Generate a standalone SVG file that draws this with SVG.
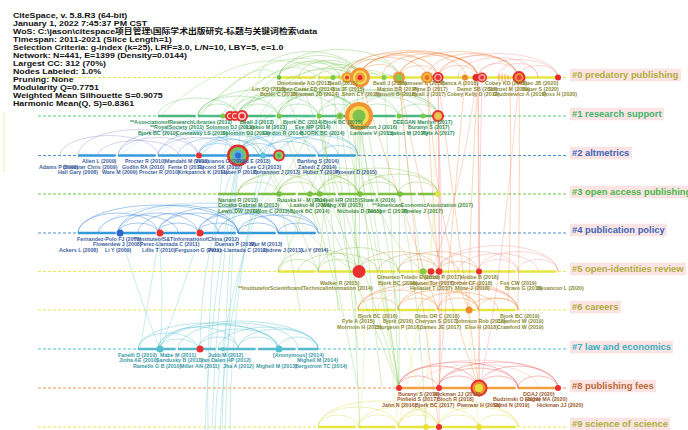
<svg xmlns="http://www.w3.org/2000/svg" width="688" height="430" viewBox="0 0 688 430">
<style>
.hd{font-family:"Liberation Sans","Noto Sans CJK SC",sans-serif;font-weight:bold;font-size:7.6px;fill:#111}
.nl{font-family:"Liberation Sans",Arial,sans-serif;font-weight:bold;font-size:5.3px}
.cl{font-family:"Liberation Sans",Arial,sans-serif;font-weight:bold;font-size:9.4px}
.bg{fill:#fde4e4}
.dash{fill:none;stroke-width:1;stroke-dasharray:3 2}
.solid{fill:none;stroke-width:2.4;stroke-dasharray:37.5 2.5}
#connectors path{fill:none;stroke-width:.7}
.g0{stroke:#7cc55a;stroke-opacity:.55}
.o0{stroke:#f07a30;stroke-opacity:.5}
.r0{stroke:#f06a6a;stroke-opacity:.4}
.a1{stroke:#5cbf5c;stroke-opacity:.5}
.a2p{stroke:#9a88d0;stroke-opacity:.55}
.a2{stroke:#3b9ee0;stroke-opacity:.55}
.a3{stroke:#80c040;stroke-opacity:.55}
.a4{stroke:#2d7fd6;stroke-opacity:.6}
.a4l{stroke:#8cc8ec;stroke-opacity:.5}
.a5g{stroke:#8cc04a;stroke-opacity:.55}
.a5o{stroke:#d08040;stroke-opacity:.5}
.a5r{stroke:#f08c8c;stroke-opacity:.5}
.a6{stroke:#f08a30;stroke-opacity:.55}
.a6r{stroke:#f4a0a0;stroke-opacity:.45}
.a7{stroke:#4cbccc;stroke-opacity:.55}
.a8{stroke:#e84848;stroke-opacity:.55}
.a8r{stroke:#f4a0a0;stroke-opacity:.5}
.a9{stroke:#e0e060;stroke-opacity:.65}
.xg{stroke:#78c850;stroke-opacity:.45}
.xt{stroke:#6cc8cc;stroke-opacity:.5}
.xc{stroke:#8ad4e4;stroke-opacity:.45}
.xo{stroke:#f08a40;stroke-opacity:.5}
.xr{stroke:#f07070;stroke-opacity:.4}
.xy{stroke:#e8e880;stroke-opacity:.55}
.L0{fill:#8b8b35}.L1{fill:#2f8f5a}.L2{fill:#3f63a0}.L3{fill:#3f8f3f}.L4{fill:#3f5f9f}
.L5{fill:#8b8b35}.L6{fill:#8b8b35}.L7{fill:#3a9aa6}.L8{fill:#9a5a30}
</style>
<rect width="688" height="430" fill="#ffffff"/>
<line x1="4" y1="112" x2="4" y2="172" stroke="#eeeeb0" stroke-width="1"/>

<g id="timelines">
<line class="dash" x1="38" y1="77.5" x2="568" y2="77.5" stroke="#e8e850"/>
<line class="dash" x1="38" y1="116" x2="568" y2="116" stroke="#55cc77"/>
<line class="dash" x1="38" y1="155.5" x2="568" y2="155.5" stroke="#4d8fd0"/>
<line class="dash" x1="38" y1="194" x2="568" y2="194" stroke="#66cc44"/>
<line class="dash" x1="38" y1="233" x2="568" y2="233" stroke="#4d8fd0"/>
<line class="dash" x1="38" y1="271.5" x2="568" y2="271.5" stroke="#e8e850"/>
<line class="dash" x1="38" y1="310" x2="568" y2="310" stroke="#e8e850"/>
<line class="dash" x1="38" y1="349" x2="568" y2="349" stroke="#55c0cc"/>
<line class="dash" x1="38" y1="388" x2="568" y2="388" stroke="#f09a50"/>
<line class="dash" x1="38" y1="427" x2="568" y2="427" stroke="#e8e850"/>
<line class="solid" x1="278" y1="77.5" x2="558" y2="77.5" stroke="#e6e640"/>
<line class="solid" x1="158" y1="116" x2="438" y2="116" stroke="#45b87a"/>
<line class="solid" x1="78" y1="155.5" x2="358" y2="155.5" stroke="#3399dd"/>
<line class="solid" x1="218" y1="194" x2="438" y2="194" stroke="#7cc040"/>
<line class="solid" x1="78" y1="233" x2="318" y2="233" stroke="#3399dd"/>
<line class="solid" x1="278" y1="271.5" x2="558" y2="271.5" stroke="#e6e640"/>
<line class="solid" x1="358" y1="310" x2="518" y2="310" stroke="#e6e640"/>
<line class="solid" x1="138" y1="349" x2="318" y2="349" stroke="#55bbcc"/>
<line class="solid" x1="398" y1="388" x2="558" y2="388" stroke="#f0a040"/>
<line class="solid" x1="318" y1="427" x2="518" y2="427" stroke="#e6e640"/>
</g>

<g id="connectors">
<path class="g0" d="M279 77.5A40 22 0 0 1 359 77.5"/>
<path class="g0" d="M279 77.5A60 28 0 0 1 399 77.5"/>
<path class="g0" d="M319 77.5A20 13 0 0 1 359 77.5"/>
<path class="g0" d="M279 77.5A30 16 0 0 1 339 77.5"/>
<path class="g0" d="M339 77.5A30 18 0 0 1 399 77.5"/>
<path class="g0" d="M299 77.5A30 17 0 0 1 359 77.5"/>
<path class="g0" d="M259 77.5A50 26 0 0 1 359 77.5"/>
<path class="o0" d="M359 77.5A39.5 22 0 0 1 438 77.5"/>
<path class="o0" d="M359 77.5A59.5 26 0 0 1 478 77.5"/>
<path class="o0" d="M399 77.5A39.5 22 0 0 1 478 77.5"/>
<path class="o0" d="M399 77.5A59.5 26 0 0 1 518 77.5"/>
<path class="o0" d="M438 77.5A40 22 0 0 1 518 77.5"/>
<path class="o0" d="M359 77.5A20 13 0 0 1 399 77.5"/>
<path class="o0" d="M399 77.5A19.5 12 0 0 1 438 77.5"/>
<path class="o0" d="M438 77.5A20 12 0 0 1 478 77.5"/>
<path class="o0" d="M345 77.5A46.5 24 0 0 1 438 77.5"/>
<path class="o0" d="M427 77.5A45.5 24 0 0 1 518 77.5"/>
<path class="o0" d="M345 77.5A66.5 27 0 0 1 478 77.5"/>
<path class="o0" d="M382 77.5A48 24 0 0 1 478 77.5"/>
<path class="o0" d="M347 77.5A40 20 0 0 1 427 77.5"/>
<path class="o0" d="M360 77.5A53 25 0 0 1 466 77.5"/>
<path class="r0" d="M478 77.5A40 18 0 0 1 558 77.5"/>
<path class="r0" d="M518 77.5A20 12 0 0 1 558 77.5"/>
<path class="r0" d="M498 77.5A20 14 0 0 1 538 77.5"/>
<path class="r0" d="M458 77.5A40 20 0 0 1 538 77.5"/>
<path class="r0" d="M478 77.5A20 14 0 0 1 518 77.5"/>
<path class="r0" d="M438 77.5A60 24 0 0 1 558 77.5"/>
<path class="xg" d="M240 116Q300 30 359 77.5"/>
<path class="xg" d="M200 116Q280 25 359 77.5"/>
<path class="xg" d="M238 155.5Q290 40 359 77.5"/>
<path class="xg" d="M160 116Q250 30 340 77.5"/>
<path class="xg" d="M230 116Q280 45 319 77.5"/>
<path class="xg" d="M279 116Q320 50 359 77.5"/>
<path class="xg" d="M241 116Q300 45 399 77.5"/>
<path class="xg" d="M238 155.5Q300 55 399 77.5"/>
<path class="xg" d="M198 116Q260 50 279 77.5"/>
<path class="xg" d="M220 116Q290 35 384 77.5"/>
<path class="a1" d="M158 116A40 18 0 0 1 238 116"/>
<path class="a1" d="M198 116A20 12 0 0 1 238 116"/>
<path class="a1" d="M198 116A40 20 0 0 1 278 116"/>
<path class="a1" d="M238 116A20 12 0 0 1 278 116"/>
<path class="a1" d="M238 116A40 20 0 0 1 318 116"/>
<path class="a1" d="M238 116A60 26 0 0 1 358 116"/>
<path class="a1" d="M278 116A40 22 0 0 1 358 116"/>
<path class="a1" d="M278 116A20 12 0 0 1 318 116"/>
<path class="a1" d="M318 116A20 12 0 0 1 358 116"/>
<path class="a1" d="M358 116A20 12 0 0 1 398 116"/>
<path class="a1" d="M358 116A40 22 0 0 1 438 116"/>
<path class="a1" d="M398 116A20 12 0 0 1 438 116"/>
<path class="a1" d="M318 116A60 26 0 0 1 438 116"/>
<path class="a1" d="M278 116A60 26 0 0 1 398 116"/>
<path class="a1" d="M238 116A100 28 0 0 1 438 116"/>
<path class="a1" d="M198 116A80 28 0 0 1 358 116"/>
<path class="a1" d="M230 116A55 24 0 0 1 340 116"/>
<path class="a1" d="M340 116A41.5 20 0 0 1 423 116"/>
<path class="a2p" d="M60 155.5A49 20 0 0 1 158 155.5"/>
<path class="a2p" d="M78 155.5A60 26 0 0 1 198 155.5"/>
<path class="a2p" d="M118 155.5A40 18 0 0 1 198 155.5"/>
<path class="a2p" d="M98 155.5A40 15 0 0 1 178 155.5"/>
<path class="a2p" d="M158 155.5A40 18 0 0 1 238 155.5"/>
<path class="a2" d="M118 155.5A60 26 0 0 1 238 155.5"/>
<path class="a2" d="M198 155.5A20 12 0 0 1 238 155.5"/>
<path class="a2" d="M198 155.5A40 20 0 0 1 278 155.5"/>
<path class="a2" d="M238 155.5A20 12 0 0 1 278 155.5"/>
<path class="a2" d="M238 155.5A40 20 0 0 1 318 155.5"/>
<path class="a2" d="M238 155.5A60 26 0 0 1 358 155.5"/>
<path class="a2" d="M278 155.5A40 20 0 0 1 358 155.5"/>
<path class="a2" d="M158 155.5A60 26 0 0 1 278 155.5"/>
<path class="a2" d="M178 155.5A40 18 0 0 1 258 155.5"/>
<path class="a2" d="M258 155.5A30 14 0 0 1 318 155.5"/>
<path class="a2" d="M318 155.5A20 10 0 0 1 358 155.5"/>
<path class="a2" d="M199 155.5A32 16 0 0 1 263 155.5"/>
<path class="a2" d="M263 155.5A37.5 18 0 0 1 338 155.5"/>
<path class="xc" d="M199 155.5Q240 120 279 116"/>
<path class="xc" d="M238 155.5Q260 110 300 77.5"/>
<path class="xc" d="M263 155.5Q290 110 320 77.5"/>
<path class="xc" d="M160 155.5Q200 120 241 116"/>
<path class="xc" d="M118 155.5Q180 110 230 116"/>
<path class="xc" d="M238 155.5Q270 120 319 116"/>
<path class="xc" d="M199 155.5Q250 110 340 116"/>
<path class="xc" d="M279 155.5Q300 120 359 116"/>
<path class="a3" d="M238 194A20 12 0 0 1 278 194"/>
<path class="a3" d="M238 194A40 20 0 0 1 318 194"/>
<path class="a3" d="M278 194A20 12 0 0 1 318 194"/>
<path class="a3" d="M278 194A40 20 0 0 1 358 194"/>
<path class="a3" d="M318 194A20 12 0 0 1 358 194"/>
<path class="a3" d="M318 194A40 20 0 0 1 398 194"/>
<path class="a3" d="M358 194A20 12 0 0 1 398 194"/>
<path class="a3" d="M358 194A40 20 0 0 1 438 194"/>
<path class="a3" d="M398 194A20 12 0 0 1 438 194"/>
<path class="a3" d="M278 194A60 26 0 0 1 398 194"/>
<path class="a3" d="M238 194A60 24 0 0 1 358 194"/>
<path class="a3" d="M318 194A60 26 0 0 1 438 194"/>
<path class="a4" d="M78 233A40 20 0 0 1 158 233"/>
<path class="a4" d="M98 233A40 18 0 0 1 178 233"/>
<path class="a4" d="M118 233A40 20 0 0 1 198 233"/>
<path class="a4" d="M118 233A60 28 0 0 1 238 233"/>
<path class="a4" d="M158 233A40 20 0 0 1 238 233"/>
<path class="a4" d="M158 233A60 26 0 0 1 278 233"/>
<path class="a4" d="M198 233A40 20 0 0 1 278 233"/>
<path class="a4" d="M198 233A60 26 0 0 1 318 233"/>
<path class="a4" d="M238 233A40 18 0 0 1 318 233"/>
<path class="a4" d="M78 233A80 28 0 0 1 238 233"/>
<path class="a4" d="M138 233A40 20 0 0 1 218 233"/>
<path class="a4" d="M218 233A40 20 0 0 1 298 233"/>
<path class="a4" d="M278 233A20 10 0 0 1 318 233"/>
<path class="a4" d="M118 233A20 10 0 0 1 158 233"/>
<path class="a4" d="M158 233A20 10 0 0 1 198 233"/>
<path class="a4" d="M198 233A20 10 0 0 1 238 233"/>
<path class="a4" d="M238 233A20 10 0 0 1 278 233"/>
<path class="a4l" d="M100 233A100 30 0 0 1 300 233"/>
<path class="a4l" d="M120 233A99 30 0 0 1 318 233"/>
<path class="a5g" d="M278 271.5A40 22 0 0 1 358 271.5"/>
<path class="a5g" d="M318 271.5A20 12 0 0 1 358 271.5"/>
<path class="a5g" d="M278 271.5A20 12 0 0 1 318 271.5"/>
<path class="a5g" d="M318 271.5A40 24 0 0 1 398 271.5"/>
<path class="a5g" d="M358 271.5A20 12 0 0 1 398 271.5"/>
<path class="a5g" d="M298 271.5A40 18 0 0 1 378 271.5"/>
<path class="a5o" d="M358 271.5A40 20 0 0 1 438 271.5"/>
<path class="a5o" d="M398 271.5A20 12 0 0 1 438 271.5"/>
<path class="a5o" d="M398 271.5A40 20 0 0 1 478 271.5"/>
<path class="a5o" d="M438 271.5A20 10 0 0 1 478 271.5"/>
<path class="a5o" d="M378 271.5A40 18 0 0 1 458 271.5"/>
<path class="a5r" d="M438 271.5A40 20 0 0 1 518 271.5"/>
<path class="a5r" d="M478 271.5A20 12 0 0 1 518 271.5"/>
<path class="a5r" d="M478 271.5A40 20 0 0 1 558 271.5"/>
<path class="a5r" d="M518 271.5A20 12 0 0 1 558 271.5"/>
<path class="a5r" d="M438 271.5A60 26 0 0 1 558 271.5"/>
<path class="a5r" d="M458 271.5A40 18 0 0 1 538 271.5"/>
<path class="a6" d="M358 310A20 12 0 0 1 398 310"/>
<path class="a6" d="M358 310A40 20 0 0 1 438 310"/>
<path class="a6" d="M398 310A20 12 0 0 1 438 310"/>
<path class="a6" d="M398 310A40 20 0 0 1 478 310"/>
<path class="a6" d="M438 310A20 12 0 0 1 478 310"/>
<path class="a6" d="M438 310A40 22 0 0 1 518 310"/>
<path class="a6" d="M478 310A20 12 0 0 1 518 310"/>
<path class="a6" d="M358 310A60 26 0 0 1 478 310"/>
<path class="a6" d="M398 310A60 28 0 0 1 518 310"/>
<path class="a6" d="M418 310A40 18 0 0 1 498 310"/>
<path class="a6" d="M469 310A24.5 12 0 0 1 518 310"/>
<path class="a6r" d="M378 310A70 28 0 0 1 518 310"/>
<path class="a6r" d="M358 310A80 28 0 0 1 518 310"/>
<path class="a7" d="M138 349A30 16 0 0 1 198 349"/>
<path class="a7" d="M158 349A40 22 0 0 1 238 349"/>
<path class="a7" d="M198 349A20 12 0 0 1 238 349"/>
<path class="a7" d="M198 349A40 20 0 0 1 278 349"/>
<path class="a7" d="M238 349A20 12 0 0 1 278 349"/>
<path class="a7" d="M238 349A40 20 0 0 1 318 349"/>
<path class="a7" d="M278 349A20 12 0 0 1 318 349"/>
<path class="a7" d="M158 349A80 28 0 0 1 318 349"/>
<path class="a7" d="M138 349A70 26 0 0 1 278 349"/>
<path class="a7" d="M178 349A60 26 0 0 1 298 349"/>
<path class="a7" d="M218 349A50 22 0 0 1 318 349"/>
<path class="a7" d="M158 349A20 10 0 0 1 198 349"/>
<path class="a7" d="M160 349A59.5 24 0 0 1 279 349"/>
<path class="a8" d="M398 388A20 12 0 0 1 438 388"/>
<path class="a8" d="M398 388A40 22 0 0 1 478 388"/>
<path class="a8" d="M438 388A20 12 0 0 1 478 388"/>
<path class="a8" d="M438 388A40 20 0 0 1 518 388"/>
<path class="a8" d="M478 388A20 12 0 0 1 518 388"/>
<path class="a8" d="M478 388A40 22 0 0 1 558 388"/>
<path class="a8" d="M518 388A20 12 0 0 1 558 388"/>
<path class="a8" d="M398 388A60 26 0 0 1 518 388"/>
<path class="a8" d="M438 388A60 26 0 0 1 558 388"/>
<path class="a8r" d="M398 388A80 28 0 0 1 558 388"/>
<path class="a8r" d="M418 388A60 24 0 0 1 538 388"/>
<path class="a9" d="M318 427A20 12 0 0 1 358 427"/>
<path class="a9" d="M318 427A40 20 0 0 1 398 427"/>
<path class="a9" d="M358 427A20 12 0 0 1 398 427"/>
<path class="a9" d="M358 427A40 20 0 0 1 438 427"/>
<path class="a9" d="M398 427A20 12 0 0 1 438 427"/>
<path class="a9" d="M398 427A40 20 0 0 1 478 427"/>
<path class="a9" d="M438 427A20 12 0 0 1 478 427"/>
<path class="a9" d="M438 427A40 20 0 0 1 518 427"/>
<path class="a9" d="M478 427A20 12 0 0 1 518 427"/>
<path class="a9" d="M318 427A60 26 0 0 1 438 427"/>
<path class="a9" d="M398 427A60 26 0 0 1 518 427"/>
<path class="xg" d="M359 116Q360 200 359 271.5"/>
<path class="xg" d="M340 77.5Q380 250 399 388"/>
<path class="xg" d="M359 77.5Q350 180 359 271.5"/>
<path class="xg" d="M319 116Q340 220 358 310"/>
<path class="xg" d="M279 116Q350 260 399 388"/>
<path class="xg" d="M399 116Q400 250 399 388"/>
<path class="xg" d="M340 116Q350 200 360 271.5"/>
<path class="xg" d="M300 77.5Q360 250 399 388"/>
<path class="xg" d="M279 77.5Q330 200 359 271.5"/>
<path class="xg" d="M319 77.5Q330 180 338 310"/>
<path class="xg" d="M384 77.5Q390 200 399 388"/>
<path class="xg" d="M359 116Q380 250 399 388"/>
<path class="xg" d="M359 116Q370 230 423 271.5"/>
<path class="xg" d="M340 77.5Q350 150 358 194"/>
<path class="xg" d="M279 116Q300 180 319 233"/>
<path class="xg" d="M359 77.5Q380 200 398 310"/>
<path class="xg" d="M319 116Q330 180 318 271.5"/>
<path class="xg" d="M399 77.5Q410 200 423 271.5"/>
<path class="xg" d="M359 116Q350 260 360 427"/>
<path class="xg" d="M320 194Q340 300 358 388"/>
<path class="xg" d="M360 194Q380 280 399 388"/>
<path class="xg" d="M279 194Q290 250 300 310"/>
<path class="xg" d="M400 194Q420 300 426 427"/>
<path class="xg" d="M338 116Q300 220 279 271.5"/>
<path class="xg" d="M319 116Q280 190 240 233"/>
<path class="xg" d="M240 116Q300 250 359 271.5"/>
<path class="xg" d="M241 116Q290 200 318 271.5"/>
<path class="xg" d="M333 77.5Q345 250 358 349"/>
<path class="xg" d="M359 116Q370 300 382 388"/>
<path class="xg" d="M310 194Q330 260 340 310"/>
<path class="xt" d="M238 155.5Q210 300 205 430"/>
<path class="xt" d="M238 155.5Q215 300 212 430"/>
<path class="xt" d="M279 116Q225 300 220 430"/>
<path class="xt" d="M241 116Q230 280 225 430"/>
<path class="xt" d="M230 116Q205 280 208 430"/>
<path class="xt" d="M263 155.5Q230 300 230 430"/>
<path class="xt" d="M279 155.5Q218 300 215 430"/>
<path class="xt" d="M238 155.5Q225 290 222 430"/>
<path class="xt" d="M160 233Q150 290 140 349"/>
<path class="xt" d="M158 233Q165 290 160 349"/>
<path class="xt" d="M200 233Q180 300 160 349"/>
<path class="xt" d="M120 233Q140 300 160 349"/>
<path class="xt" d="M238 155.5Q200 250 200 349"/>
<path class="xo" d="M438 77.5Q460 250 479 388"/>
<path class="xo" d="M478 77.5Q480 250 479 388"/>
<path class="xo" d="M519 77.5Q520 200 518 310"/>
<path class="xo" d="M510 77.5Q512 200 508 300"/>
<path class="xo" d="M427 77.5Q440 250 469 310"/>
<path class="xo" d="M399 77.5Q430 250 479 388"/>
<path class="xo" d="M465 77.5Q450 250 439 388"/>
<path class="xo" d="M359 77.5Q400 200 438 310"/>
<path class="xo" d="M427 77.5Q430 180 439 271.5"/>
<path class="xo" d="M478 77.5Q470 200 469 310"/>
<path class="xo" d="M399 77.5Q420 300 439 427"/>
<path class="xr" d="M438 77.5Q440 180 439 271.5"/>
<path class="xr" d="M478 77.5Q478 180 479 271.5"/>
<path class="xr" d="M482 77.5Q478 250 479 388"/>
<path class="xr" d="M438 116Q445 250 439 388"/>
<path class="xr" d="M519 77.5Q500 300 479 388"/>
<path class="xr" d="M477 77.5Q460 200 431 271.5"/>
<path class="xr" d="M438 77.5Q440 300 439 427"/>
<path class="xy" d="M438 194Q420 320 399 427"/>
<path class="xy" d="M426 427Q410 350 399 310"/>
<path class="xy" d="M380 271.5Q390 350 398 427"/>
<path class="xy" d="M359 271.5Q370 350 358 427"/>
<path class="xy" d="M479 427Q470 350 469 310"/>
<path class="xy" d="M438 116Q430 250 426 427"/>
</g>

<g id="node-r0-2013"><circle cx="279" cy="77.5" r="2.2" fill="#66bb44"/></g>
<g id="node-r0-2014"><circle cx="333" cy="77.5" r="2.5" fill="#77cc44"/></g>
<g id="node-r0-2015a"><circle cx="347" cy="77.5" r="5.5" fill="#f29a3a"/><circle cx="347" cy="77.5" r="3.5" fill="#f5d040"/><circle cx="347" cy="77.5" r="2" fill="#e83030"/></g>
<g id="node-r0-2015b"><circle cx="360" cy="77.5" r="10" fill="#f2923a"/><circle cx="360" cy="77.5" r="7" fill="#f0e050"/><circle cx="360" cy="77.5" r="5" fill="#f0a040"/><circle cx="360" cy="77.5" r="2.5" fill="#e82828"/></g>
<g id="node-r0-2015c"><circle cx="384" cy="77.5" r="2.5" fill="#88cc44"/></g>
<g id="node-r0-2016"><circle cx="399" cy="77.5" r="6" fill="#f2943a"/><circle cx="399" cy="77.5" r="3.5" fill="#88cc55"/></g>
<g id="node-r0-2017a"><circle cx="427" cy="77.5" r="6" fill="#f2943a"/><circle cx="427" cy="77.5" r="4" fill="#f5c040"/><circle cx="427" cy="77.5" r="2.5" fill="#f07030"/></g>
<g id="node-r0-2017b"><circle cx="438" cy="77.5" r="5.5" fill="#e82828"/><circle cx="438" cy="77.5" r="3.8" fill="#f6b0b0"/><circle cx="438" cy="77.5" r="2.5" fill="#e83030"/></g>
<g id="node-r0-2018a"><circle cx="465" cy="77.5" r="3" fill="#f08a30"/></g>
<g id="node-r0-2018b"><circle cx="476" cy="77.5" r="3.5" fill="#e82828"/></g>
<g id="node-r0-2018c"><circle cx="482" cy="77.5" r="5" fill="#e83030"/><circle cx="482" cy="77.5" r="3.5" fill="#f5a0a0"/><circle cx="482" cy="77.5" r="2" fill="#e83030"/></g>
<g id="node-r0-2018d" stroke="#f4a050" stroke-width="1"><line x1="499" y1="74" x2="499" y2="81"/><line x1="502" y1="74" x2="502" y2="81"/><line x1="505" y1="74" x2="505" y2="81"/><line x1="508" y1="75" x2="508" y2="80"/></g>
<g id="node-r0-2019"><circle cx="519" cy="77.5" r="6.5" fill="#e52b2b"/><circle cx="519" cy="77.5" r="4.5" fill="#f39040"/><circle cx="519" cy="77.5" r="2.5" fill="#e84030"/></g>
<g id="node-r0-2020"><circle cx="558" cy="77.5" r="3" fill="#e82828"/></g>

<g id="node-r1-2011a"><circle cx="223" cy="116" r="2.5" fill="#77cc44"/></g>
<g id="node-r1-2011b"><circle cx="230" cy="116" r="5" fill="#e83030"/><circle cx="230" cy="116" r="3" fill="#fbdada"/><circle cx="230" cy="116" r="2" fill="#e83030"/></g>
<g id="node-r1-2011c"><circle cx="235" cy="116" r="5" fill="#e83030"/><circle cx="235" cy="116" r="3" fill="#fbdada"/><circle cx="235" cy="116" r="2" fill="#e83030"/></g>
<g id="node-r1-2012"><circle cx="242" cy="116" r="6" fill="#e83030"/><circle cx="242" cy="116" r="4" fill="#f9d0d0"/><circle cx="242" cy="116" r="2.5" fill="#e83030"/></g>
<g id="node-r1-2013"><circle cx="279" cy="116" r="2.5" fill="#77cc44"/></g>
<g id="node-r1-2014a"><circle cx="319" cy="116" r="2.5" fill="#77cc44"/></g>
<g id="node-r1-2014b"><circle cx="340" cy="116" r="3.5" fill="#9ad060"/><circle cx="340" cy="116" r="2" fill="#66bb44"/></g>
<g id="node-r1-2015"><circle cx="359" cy="116" r="14" fill="#f39434"/><circle cx="359" cy="116" r="10" fill="#eedd55"/><circle cx="359" cy="116" r="6.5" fill="#7fc24f"/></g>
<g id="node-r1-2016"><circle cx="399" cy="116" r="2.5" fill="#77cc44"/></g>
<g id="node-r1-2017a"><circle cx="423" cy="116" r="2.5" fill="#77cc44"/></g>
<g id="node-r1-2017b"><circle cx="438" cy="116" r="6" fill="#e83030"/><circle cx="438" cy="116" r="4" fill="#f3b050"/><circle cx="438" cy="116" r="2.5" fill="#e0d050"/></g>

<g id="node-r2-2011"><circle cx="199" cy="155.5" r="3" fill="#e83030"/></g>
<g id="node-r2-2012"><circle cx="238" cy="155.5" r="11" fill="#e32f2f"/><circle cx="238" cy="155.5" r="8.5" fill="#7ac25a"/><circle cx="238" cy="155.5" r="5.5" fill="#5ab0e0"/><circle cx="238" cy="155.5" r="3" fill="#2f6fd0"/></g>
<g id="node-r2-2013a"><circle cx="263" cy="155.5" r="3" fill="#5cc0e0"/></g>
<g id="node-r2-2013b"><circle cx="279" cy="155.5" r="6" fill="#e83030"/><circle cx="279" cy="155.5" r="4" fill="#88cc66"/><circle cx="279" cy="155.5" r="2" fill="#55aa55"/></g>

<g id="node-r3-2013"><circle cx="279" cy="194" r="2.8" fill="#77c040"/></g>
<g id="node-r3-2014a"><circle cx="310" cy="194" r="2.8" fill="#77c040"/></g>
<g id="node-r3-2014b"><circle cx="320" cy="194" r="2.8" fill="#77c040"/></g>
<g id="node-r3-2015"><circle cx="360" cy="194" r="2.8" fill="#77c040"/></g>
<g id="node-r3-2016"><circle cx="400" cy="194" r="2.8" fill="#77c040"/></g>
<g id="node-r3-2017"><circle cx="438" cy="194" r="3" fill="#e0e050"/></g>

<g id="node-r4-2009"><circle cx="120" cy="233" r="3.5" fill="#2d65c8"/></g>
<g id="node-r4-2010"><circle cx="160" cy="233" r="3.5" fill="#e83030"/></g>
<g id="node-r4-2011"><circle cx="200" cy="233" r="3.5" fill="#e83030"/></g>

<g id="node-r5-2015"><circle cx="359" cy="271.5" r="6.5" fill="#e83030"/></g>
<g id="node-r5-2017a"><circle cx="423" cy="271.5" r="3.3" fill="#88cc44"/></g>
<g id="node-r5-2017b"><circle cx="431" cy="271.5" r="3.3" fill="#e83030"/></g>
<g id="node-r5-2017c"><circle cx="439" cy="271.5" r="3.3" fill="#e83030"/></g>
<g id="node-r5-2018"><circle cx="479" cy="271.5" r="3" fill="#e83030"/></g>

<g id="node-r6-2018"><circle cx="469" cy="310" r="3.5" fill="#f08a30"/></g>

<g id="node-r7-2010"><circle cx="160" cy="349" r="3.5" fill="#55c0d0"/></g>
<g id="node-r7-2011"><circle cx="200" cy="349" r="3.5" fill="#e83030"/></g>
<g id="node-r7-2012"><circle cx="223" cy="349" r="2" fill="#55c0d0"/></g>
<g id="node-r7-2013"><circle cx="279" cy="349" r="3.5" fill="#55c0d0"/></g>

<g id="node-r8-2016"><circle cx="399" cy="388" r="3" fill="#e83030"/></g>
<g id="node-r8-2017"><circle cx="439" cy="388" r="3" fill="#e83030"/></g>
<g id="node-r8-2018"><circle cx="479" cy="388" r="8.5" fill="#e83030"/><circle cx="479" cy="388" r="6.5" fill="#f09030"/><circle cx="479" cy="388" r="4" fill="#e8e040"/></g>
<g id="node-r8-2020"><circle cx="558" cy="388" r="3" fill="#e83030"/></g>

<g id="node-r9-2017a"><circle cx="426" cy="427" r="3" fill="#e8e040"/></g>
<g id="node-r9-2017b"><circle cx="439" cy="427" r="3" fill="#e83030"/></g>
<g id="node-r9-2018"><circle cx="479" cy="427" r="3" fill="#e8e040"/></g>

<g id="labels-r0" class="nl L0">
<text x="277" y="85.3">Omotowale AO (2013)</text>
<text x="328" y="85.3">Beall (2015)</text>
<text x="373" y="85.3">Beall J (2016)</text>
<text x="398" y="85.3">Shamseer L (2017)</text>
<text x="440" y="85.3">Manca A (2018)</text>
<text x="485" y="85.3">Cobey KD (2019)</text>
<text x="522" y="85.3">Xiao JB (2020)</text>
<text x="252" y="90.7">Lin SQ (2013)</text>
<text x="277" y="90.7">Lopez-Cozar ED (2014)</text>
<text x="332" y="90.7">Xia JF (2015)</text>
<text x="377" y="90.7">Martin BR (2016)</text>
<text x="413" y="90.7">Pyne D (2017)</text>
<text x="457" y="90.7">Demir SB (2018)</text>
<text x="488" y="90.7">Strinzel M (2019)</text>
<text x="522" y="90.7">Bauer S (2020)</text>
<text x="260" y="96.1">Butler C (2013)</text>
<text x="292" y="96.1">Bowman JD (2014)</text>
<text x="342" y="96.1">Shen CY (2015)</text>
<text x="375" y="96.1">Nansoti B (2016)</text>
<text x="412" y="96.1">Beall J (2017)</text>
<text x="447" y="96.1">Cobey Kelly D (2018)</text>
<text x="493" y="96.1">Grudniewicz A (2019)</text>
<text x="542" y="96.1">Ross H (2020)</text>
</g>
<g id="labels-r1" class="nl L1">
<text x="130" y="123.8">**AssociationofResearchLibraries (2011)</text>
<text x="240" y="123.8">Beall J (2013)</text>
<text x="283" y="123.8">Bjork BC (2014)</text>
<text x="323" y="123.8">Bjork BC (2015)</text>
<text x="393" y="123.8">DEEGAN Marilyn (2017)</text>
<text x="150" y="129.2">**RoyalSociety (2011)</text>
<text x="206" y="129.2">Solomon DJ (2012)</text>
<text x="246" y="129.2">Laakso M (2013)</text>
<text x="295" y="129.2">Eve MP (2014)</text>
<text x="350" y="129.2">Bohannon J (2016)</text>
<text x="408" y="129.2">Buranyi S (2017)</text>
<text x="138" y="134.6">Bjork BC (2010)</text>
<text x="176" y="134.6">Connaway LS (2010)</text>
<text x="222" y="134.6">Solomon DJ (2013)</text>
<text x="262" y="134.6">Gordon R (2014)</text>
<text x="300" y="134.6">BJORK BC (2014)</text>
<text x="350" y="134.6">Lariviere V (2015)</text>
<text x="387" y="134.6">Laakso M (2016)</text>
<text x="422" y="134.6">Fyfe A (2017)</text>
</g>
<g id="labels-r2" class="nl L2">
<text x="82" y="163.3">Allen L (2009)</text>
<text x="125" y="163.3">Procter R (2010)</text>
<text x="165" y="163.3">Mandahl M (2011)</text>
<text x="195" y="163.3">Veletsianos G (2012)</text>
<text x="237" y="163.3">Ford E (2013)</text>
<text x="297" y="163.3">Bartling S (2014)</text>
<text x="39" y="168.7">Adams P (2008)</text>
<text x="63" y="168.7">Brewster Chris (2009)</text>
<text x="122" y="168.7">Godlin RA (2010)</text>
<text x="168" y="168.7">Fente D (2011)</text>
<text x="198" y="168.7">Record SK (2012)</text>
<text x="247" y="168.7">Lee CJ (2013)</text>
<text x="298" y="168.7">Zahedi Z (2014)</text>
<text x="58" y="174.1">Hall Gary (2008)</text>
<text x="102" y="174.1">Ware M (2009)</text>
<text x="139" y="174.1">Procter R (2010)</text>
<text x="178" y="174.1">Kirkpatrick K (2011)</text>
<text x="221" y="174.1">Haber P (2012)</text>
<text x="253" y="174.1">Bohannon J (2013)</text>
<text x="303" y="174.1">Huber T (2014)</text>
<text x="335" y="174.1">Prosser D (2015)</text>
</g>
<g id="labels-r3" class="nl L3">
<text x="218" y="201.8">Nariani R (2013)</text>
<text x="277" y="201.8">Ruuska H - M (2014)</text>
<text x="315" y="201.8">Russell HR (2015)</text>
<text x="360" y="201.8">Shaw A (2016)</text>
<text x="218" y="207.2">Cocaka Gabriel M (2013)</text>
<text x="290" y="207.2">Laakso M (2014)</text>
<text x="322" y="207.2">Wang XW (2015)</text>
<text x="473" y="207.2" text-anchor="end">**AmericanEconomicAssociation (2017)</text>
<text x="218" y="212.6">Lewis DW (2012)</text>
<text x="252" y="212.6">Tollon C (2013)</text>
<text x="290" y="212.6">Bjork BC (2014)</text>
<text x="337" y="212.6">Nicholas D (2015)</text>
<text x="367" y="212.6">Tenopir C (2016)</text>
<text x="403" y="212.6">Rowley J (2017)</text>
</g>
<g id="labels-r4" class="nl L4">
<text x="77" y="240.8">Fernandez-Polo FJ (2009)</text>
<text x="133" y="240.8">**InstituteofS&amp;TInformationofChina (2012)</text>
<text x="93" y="246.2">Flowerdew J (2008)</text>
<text x="140" y="246.2">Perez-Llantada C (2011)</text>
<text x="215" y="246.2">Duenas P (2012)</text>
<text x="250" y="246.2">Mur M (2013)</text>
<text x="59" y="251.6">Ackers L (2008)</text>
<text x="105" y="251.6">Li Y (2009)</text>
<text x="142" y="251.6">Lillis T (2010)</text>
<text x="175" y="251.6">Ferguson G (2011)</text>
<text x="208" y="251.6">Perez-Llantada C (2012)</text>
<text x="262" y="251.6">Andrew J (2013)</text>
<text x="302" y="251.6">Li Y (2014)</text>
</g>
<g id="labels-r5" class="nl L5">
<text x="377" y="279.3">Gimenez-Toledo E (2016)</text>
<text x="422" y="279.3">Nathan P (2017)</text>
<text x="460" y="279.3">Hobbe B (2018)</text>
<text x="320" y="284.7">Walker R (2015)</text>
<text x="378" y="284.7">Bjork BC (2016)</text>
<text x="410" y="284.7">Hauser Tor (2017)</text>
<text x="450" y="284.7">Corbet CF (2018)</text>
<text x="500" y="284.7">Fox CW (2019)</text>
<text x="238" y="290.1">**InstituteforScientificandTechnicalInformation (2014)</text>
<text x="410" y="290.1">Hellauer T (2017)</text>
<text x="455" y="290.1">Milne J (2018)</text>
<text x="505" y="290.1">Bravo G (2019)</text>
<text x="537" y="290.1">Besancon L (2020)</text>
</g>
<g id="labels-r6" class="nl L6">
<text x="358" y="317.8">Bjork BC (2016)</text>
<text x="415" y="317.8">Dinis OR C (2018)</text>
<text x="500" y="317.8">Bjork BC (2019)</text>
<text x="342" y="323.2">Fyfe A (2015)</text>
<text x="383" y="323.2">Bjork (2016)</text>
<text x="415" y="323.2">Cheryan S (2017)</text>
<text x="455" y="323.2">Johnson Rob (2018)</text>
<text x="497" y="323.2">Crawford W (2019)</text>
<text x="337" y="328.6">Morrison H (2015)</text>
<text x="376" y="328.6">Sturgeon P (2016)</text>
<text x="420" y="328.6">James JE (2017)</text>
<text x="465" y="328.6">Else H (2018)</text>
<text x="497" y="328.6">Crawford W (2019)</text>
</g>
<g id="labels-r7" class="nl L7">
<text x="118" y="356.8">Fanelli D (2010)</text>
<text x="160" y="356.8">Mabe M (2011)</text>
<text x="208" y="356.8">Jubb M (2012)</text>
<text x="273" y="356.8">[Anonymous] (2014)</text>
<text x="119" y="362.2">Jinha AE (2010)</text>
<text x="156" y="362.2">Sandusky B (2011)</text>
<text x="200" y="362.2">Van Dalen HP (2012)</text>
<text x="297" y="362.2">Mighell M (2014)</text>
<text x="133" y="367.6">Ramello G B (2010)</text>
<text x="180" y="367.6">Miller AN (2011)</text>
<text x="223" y="367.6">Jha A (2012)</text>
<text x="256" y="367.6">Mighell M (2013)</text>
<text x="295" y="367.6">Bergstrom TC (2014)</text>
</g>
<g id="labels-r8" class="nl L8">
<text x="398" y="395.8">Buranyi S (2016)</text>
<text x="434" y="395.8">Hickman JJ (2018)</text>
<text x="523" y="395.8">DOAJ (2020)</text>
<text x="397" y="401.2">Pinfield S (2017)</text>
<text x="437" y="401.2">Bloch R (2018)</text>
<text x="493" y="401.2">Budzinski O (2019)</text>
<text x="525" y="401.2">Hagve MA (2020)</text>
<text x="382" y="406.6">Jahn N (2016)</text>
<text x="415" y="406.6">Bjork BC (2017)</text>
<text x="457" y="406.6">Piwowar H (2018)</text>
<text x="493" y="406.6">Saind N (2019)</text>
<text x="537" y="406.6">Hickman JJ (2020)</text>
</g>

<g id="cluster-0"><rect class="bg" x="570" y="68.7" width="111" height="12.6"/><text class="cl" x="572" y="78.4" fill="#b0ad3a">#0 predatory publishing</text></g>
<g id="cluster-1"><rect class="bg" x="570" y="107.7" width="94" height="12.6"/><text class="cl" x="572" y="117.4" fill="#3cb46e">#1 research support</text></g>
<g id="cluster-2"><rect class="bg" x="570" y="146.7" width="62" height="12.6"/><text class="cl" x="572" y="156.4" fill="#3a66b8">#2 altmetrics</text></g>
<g id="cluster-3"><rect class="bg" x="570" y="185.7" width="124" height="12.6"/><text class="cl" x="572" y="195.4" fill="#44b844">#3 open access publishing</text></g>
<g id="cluster-4"><rect class="bg" x="570" y="223.7" width="97" height="12.6"/><text class="cl" x="572" y="233.4" fill="#3a66b8">#4 publication policy</text></g>
<g id="cluster-5"><rect class="bg" x="570" y="262.7" width="116" height="12.6"/><text class="cl" x="572" y="272.4" fill="#b0ad3a">#5 open-identities review</text></g>
<g id="cluster-6"><rect class="bg" x="570" y="300.7" width="51" height="12.6"/><text class="cl" x="572" y="310.4" fill="#b0a83a">#6 careers</text></g>
<g id="cluster-7"><rect class="bg" x="570" y="340.7" width="103" height="12.6"/><text class="cl" x="572" y="350.4" fill="#3ab0c0">#7 law and economics</text></g>
<g id="cluster-8"><rect class="bg" x="570" y="379.7" width="86" height="12.6"/><text class="cl" x="572" y="389.4" fill="#b86a38">#8 publishing fees</text></g>
<g id="cluster-9"><rect class="bg" x="570" y="417.7" width="100" height="12.6"/><text class="cl" x="572" y="427.4" fill="#a8b03a">#9 science of science</text></g>

<g id="header" class="hd" transform="scale(1.16 1)">
<text x="11.2" y="18.1">CiteSpace, v. 5.8.R3 (64-bit)</text>
<text x="11.2" y="26.1">January 1, 2022 7:45:37 PM CST</text>
<text x="11.2" y="34.2">WoS: C:\jason\citespace项目管理\国际学术出版研究-标题与关键词检索\data</text>
<text x="11.2" y="42.2">Timespan: 2011-2021 (Slice Length=1)</text>
<text x="11.2" y="50.2">Selection Criteria: g-index (k=25), LRF=3.0, L/N=10, LBY=5, e=1.0</text>
<text x="11.2" y="58.3">Network: N=441, E=1399 (Density=0.0144)</text>
<text x="11.2" y="66.3">Largest CC: 312 (70%)</text>
<text x="11.2" y="74.3">Nodes Labeled: 1.0%</text>
<text x="11.2" y="82.3">Pruning: None</text>
<text x="11.2" y="90.4">Modularity Q=0.7751</text>
<text x="11.2" y="98.4">Weighted Mean Silhouette S=0.9075</text>
<text x="11.2" y="106.4">Harmonic Mean(Q, S)=0.8361</text>
</g>
</svg>
